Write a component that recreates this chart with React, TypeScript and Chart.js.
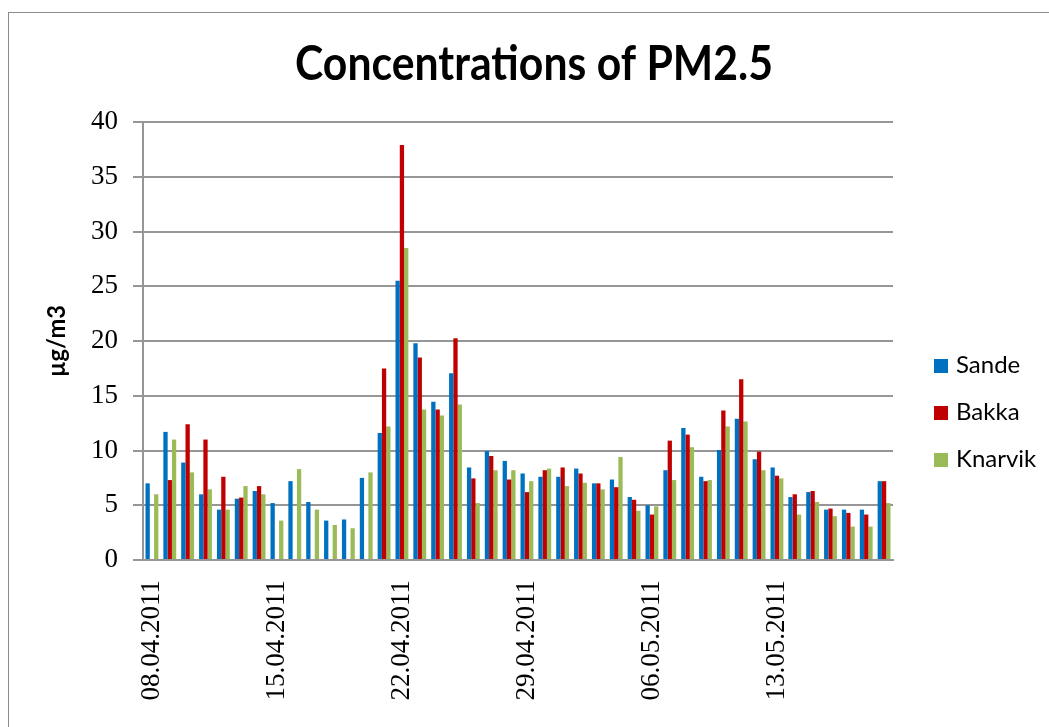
import React, { useEffect, useRef } from "react";
import { Chart, registerables } from "chart.js";

Chart.register(...registerables);

const dates: string[] = [
  "08.04.2011", "09.04.2011", "10.04.2011", "11.04.2011", "12.04.2011", "13.04.2011", "14.04.2011",
  "15.04.2011", "16.04.2011", "17.04.2011", "18.04.2011", "19.04.2011", "20.04.2011", "21.04.2011",
  "22.04.2011", "23.04.2011", "24.04.2011", "25.04.2011", "26.04.2011", "27.04.2011", "28.04.2011",
  "29.04.2011", "30.04.2011", "01.05.2011", "02.05.2011", "03.05.2011", "04.05.2011", "05.05.2011",
  "06.05.2011", "07.05.2011", "08.05.2011", "09.05.2011", "10.05.2011", "11.05.2011", "12.05.2011",
  "13.05.2011", "14.05.2011", "15.05.2011", "16.05.2011", "17.05.2011", "18.05.2011", "19.05.2011",
];

const shownTickLabels: string[] = [
  "08.04.2011", "15.04.2011", "22.04.2011", "29.04.2011", "06.05.2011", "13.05.2011",
];

const sande: (number | null)[] = [
  7.0, 11.7, 8.9, 6.0, 4.6, 5.6, 6.3, 5.2, 7.2, 5.3, 3.6, 3.7, 7.5, 11.6,
  25.5, 19.8, 14.45, 17.05, 8.45, 9.95, 9.05, 7.9, 7.6, 7.6, 8.35, 7.0, 7.35, 5.75,
  5.0, 8.2, 12.05, 7.6, 10.05, 12.9, 9.2, 8.45, 5.75, 6.2, 4.6, 4.6, 4.6, 7.2,
];

const bakka: (number | null)[] = [
  null, 7.3, 12.4, 11.0, 7.6, 5.7, 6.75, null, null, null, null, null, null, 17.5,
  37.9, 18.5, 13.75, 20.25, 7.45, 9.5, 7.35, 6.2, 8.2, 8.45, 7.9, 7.0, 6.65, 5.5,
  4.15, 10.9, 11.45, 7.2, 13.65, 16.5, 9.9, 7.7, 6.0, 6.3, 4.7, 4.3, 4.15, 7.2,
];

const knarvik: (number | null)[] = [
  6.0, 11.0, 8.0, 6.45, 4.6, 6.75, 6.0, 3.6, 8.3, 4.6, 3.2, 2.9, 8.0, 12.2,
  28.5, 13.75, 13.2, 14.2, 5.2, 8.2, 8.2, 7.2, 8.35, 6.75, 7.05, 6.45, 9.4, 4.5,
  4.9, 7.3, 10.3, 7.3, 12.2, 12.65, 8.2, 7.45, 4.15, 5.3, 4.0, 3.05, 3.05, 5.2,
];

const seriesNames: string[] = ["Sande", "Bakka", "Knarvik"];
const seriesColors: string[] = ["#0070C0", "#C00000", "#9BBB59"];
const titleText = "Concentrations of PM2.5";
const yAxisTitle = "µg/m3";

const W = 1049;
const H = 727;

const decorPlugin = {
  id: "decor",
  beforeDraw(chart: any) {
    const ctx = chart.ctx;
    ctx.save();
    ctx.fillStyle = "#ffffff";
    ctx.fillRect(0, 0, W, H);
    ctx.strokeStyle = "#8c8c8c";
    ctx.lineWidth = 1;
    ctx.strokeRect(8.5, 12.5, W + 50, H + 50);
    ctx.restore();
  },
  afterDraw(chart: any) {
    const ctx = chart.ctx;
    ctx.save();
    // Title
    ctx.fillStyle = "#000000";
    ctx.font = "bold 47px Lato";
    ctx.textAlign = "center";
    ctx.textBaseline = "alphabetic";
    const tw = ctx.measureText(titleText).width;
    ctx.save();
    ctx.translate(534, 80);
    ctx.scale(478 / tw, 1);
    ctx.fillText(titleText, 0, 0);
    ctx.restore();

    // Y axis title
    ctx.font = "bold 24px Lato";
    const yw = ctx.measureText(yAxisTitle).width;
    ctx.save();
    ctx.translate(65, 341);
    ctx.rotate(-Math.PI / 2);
    ctx.scale(72 / yw, 1);
    ctx.textAlign = "center";
    ctx.fillText(yAxisTitle, 0, 0);
    ctx.restore();

    // Legend
    ctx.font = "24px Lato";
    ctx.textAlign = "left";
    seriesNames.forEach((name, i) => {
      const base = 373 + i * 47;
      ctx.fillStyle = seriesColors[i];
      ctx.fillRect(934, base - 14, 14, 14);
      ctx.fillStyle = "#000000";
      ctx.fillText(name, 956, base);
    });
    ctx.restore();
  },
};

export default function App() {
  const ref = useRef<HTMLCanvasElement | null>(null);

  useEffect(() => {
    if (!ref.current) return;
    const gridColor = "#969696";
    const chart = new Chart(ref.current, {
      type: "bar",
      data: {
        labels: dates,
        datasets: [
          { label: seriesNames[0], data: sande, backgroundColor: seriesColors[0], borderWidth: 0 },
          { label: seriesNames[1], data: bakka, backgroundColor: seriesColors[1], borderWidth: 0 },
          { label: seriesNames[2], data: knarvik, backgroundColor: seriesColors[2], borderWidth: 0 },
        ],
      },
      options: {
        responsive: false,
        devicePixelRatio: 1,
        animation: false,
        datasets: { bar: { categoryPercentage: 0.72, barPercentage: 1.0 } },
        layout: { padding: { left: 0, top: 122, right: 156, bottom: 17 } },
        plugins: {
          legend: { display: false },
          title: { display: false },
          tooltip: { enabled: false },
        },
        scales: {
          x: {
            afterFit: (scale: any) => {
              scale.height = 150;
            },
            grid: { display: false, drawTicks: false },
            border: { display: true, color: gridColor, width: 2 },
            ticks: {
              autoSkip: false,
              minRotation: 90,
              maxRotation: 90,
              padding: 20,
              color: "#000000",
              font: { family: "Liberation Serif", size: 27 },
              callback: function (this: any, _v: any, index: number) {
                const l = dates[index];
                return shownTickLabels.includes(l) ? l : "";
              },
            },
          },
          y: {
            min: 0,
            max: 40,
            afterFit: (scale: any) => {
              scale.width = 143;
            },
            grid: { color: gridColor, lineWidth: 2, tickLength: 10, drawTicks: true },
            border: { display: true, color: gridColor, width: 2 },
            ticks: {
              stepSize: 5,
              padding: 15,
              color: "#000000",
              font: { family: "Liberation Serif", size: 27 },
            },
          },
        },
      },
      plugins: [decorPlugin],
    });
    return () => chart.destroy();
  }, []);

  return (
    <canvas
      ref={ref}
      width={W}
      height={H}
      style={{ position: "absolute", left: 0, top: 0, width: W, height: H, display: "block" }}
    />
  );
}
